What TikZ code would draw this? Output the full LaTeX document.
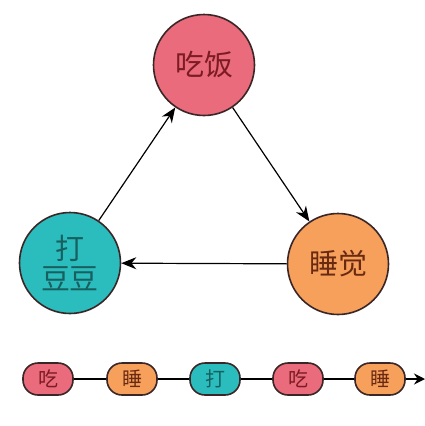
\documentclass[tikz,border=0pt]{standalone}
\usepackage{fontspec}
\setmainfont{Noto Sans CJK SC}
\usetikzlibrary{arrows.meta}
\definecolor{pinkfill}{HTML}{E96B7C}
\definecolor{orangefill}{HTML}{F6A05C}
\definecolor{tealfill}{HTML}{2BBDBE}
\definecolor{redtext}{HTML}{7C1C22}
\definecolor{browntext}{HTML}{6A2A12}
\definecolor{tealtext}{HTML}{17605F}
\definecolor{edgecol}{HTML}{3A2626}
\tikzset{
  bigstate/.style={circle,draw=edgecol,line width=1.6pt,minimum size=101pt,inner sep=0pt,
    font=\fontsize{29}{31}\selectfont,align=center},
  smallstate/.style={rounded corners=15pt,draw=edgecol,line width=1.6pt,minimum width=50pt,
    minimum height=32pt,inner sep=0pt,font=\fontsize{20}{22}\selectfont},
  flow/.style={line width=1.2pt,-{Stealth[length=15pt,width=12pt]}},
}
\begin{document}
\begin{tikzpicture}[x=1pt,y=-1pt]%
\useasboundingbox (0,0) rectangle (425,426);
% cycle of three states
\node[bigstate,fill=pinkfill,text=redtext] (eat) at (204,65) {吃饭};
\node[bigstate,fill=orangefill,text=browntext] (sleep) at (338,264) {睡觉};
\node[bigstate,fill=tealfill,text=tealtext] (play) at (70,263) {打\\[-1pt]豆豆};
\draw[flow] (eat) -- (sleep);
\draw[flow] (sleep) -- (play);
\draw[flow] (play) -- (eat);
% the same states in a row
\node[smallstate,fill=pinkfill,text=redtext] (s1) at (48,379) {吃};
\node[smallstate,fill=orangefill,text=browntext] (s2) at (132,379) {睡};
\node[smallstate,fill=tealfill,text=tealtext] (s3) at (215,379) {打};
\node[smallstate,fill=pinkfill,text=redtext] (s4) at (298,379) {吃};
\node[smallstate,fill=orangefill,text=browntext] (s5) at (380,379) {睡};
\coordinate (tail) at (425,379);
\draw[line width=1.2pt] (s1) -- (s2) (s2) -- (s3) (s3) -- (s4) (s4) -- (s5);
\draw[line width=1.2pt,-{Stealth[length=11pt,width=11pt]}] (s5) -- (tail);
\end{tikzpicture}
\end{document}
